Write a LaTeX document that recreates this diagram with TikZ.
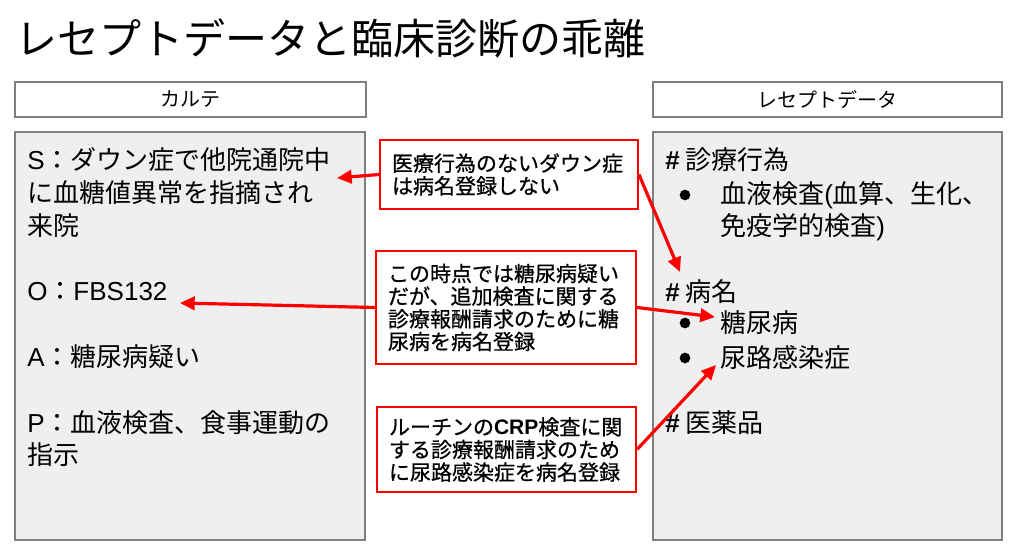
\documentclass[tikz,border=0pt]{standalone}
\usepackage{fontspec}
\setmainfont{Noto Sans CJK JP}
\newfontfamily\latinface{Liberation Sans}
\newfontfamily\noteface[FakeBold=0.7]{Noto Sans CJK JP}
\newcommand{\lat}[1]{{\latinface #1}}
\newcommand{\hashmark}{{\latinface\bfseries\#}}
\usetikzlibrary{arrows.meta}
\definecolor{panelgray}{HTML}{EFEFEF}
\definecolor{framegray}{HTML}{7F7F7F}
\definecolor{alertred}{HTML}{FF0000}

\tikzset{
  panel/.style={draw=framegray, line width=1.1pt, fill=panelgray},
  header/.style={draw=framegray, line width=1.1pt, fill=white, inner sep=0,
    font=\fontsize{15pt}{18pt}\selectfont},
  callout/.style={draw=alertred, line width=1.5pt, fill=white, align=left,
    inner xsep=9pt, inner ysep=0pt,
    font=\noteface\fontsize{15.75pt}{17pt}\selectfont},
  body/.style={anchor=west, inner sep=0, font=\fontsize{19.5pt}{24pt}\selectfont},
  bulletdot/.style={circle, fill=black, inner sep=0, minimum size=8pt},
  pointer/.style={draw=alertred, line width=2.4pt,
    -{Triangle[length=11pt,width=10pt]}},
}

\begin{document}
\begin{tikzpicture}[x=0.75pt,y=-0.75pt]
\useasboundingbox (0,0) rectangle (1024,559);

% title
\node[anchor=west, inner sep=0, font=\fontsize{31.5pt}{36pt}\selectfont]
  (title) at (15,38) {レセプトデータと臨床診断の乖離};

% column headers
\node[header, minimum width=263.25pt, minimum height=26.25pt] (hkarte) at (190.5,99.5) {カルテ};
\node[header, minimum width=261.75pt, minimum height=26.25pt] (hreceipt) at (827.5,99.5) {レセプトデータ};

% panels
\draw[panel] (15,132) rectangle (365,540);
\draw[panel] (653,132) rectangle (1002,540);

% chart (SOAP) text
\node[body] (s1) at (27,160) {\lat{S}：ダウン症で他院通院中};
\node[body] (s2) at (27,193) {に血糖値異常を指摘され};
\node[body] (s3) at (27,226) {来院};
\node[body] (o1) at (27,292) {\lat{O}：\lat{FBS132}};
\node[body] (a1) at (27,357) {\lat{A}：糖尿病疑い};
\node[body] (p1) at (27,423) {\lat{P}：血液検査、食事運動の};
\node[body] (p2) at (27,455) {指示};

% receipt data text
\node[body] (proc) at (665,160) {\hashmark{} 診療行為};
\node[bulletdot] (b1) at (685,195) {};
\node[body] (proc1) at (720,195) {血液検査\lat{(}血算、生化、};
\node[body] (proc2) at (720,227) {免疫学的検査\lat{)}};
\node[body] (dx) at (665,292) {\hashmark{} 病名};
\node[bulletdot] (b2) at (685,323) {};
\node[body] (dm) at (720,323) {糖尿病};
\node[bulletdot] (b3) at (685,358) {};
\node[body] (uti) at (720,358) {尿路感染症};
\node[body] (drug) at (665,423) {\hashmark{} 医薬品};

% notes
\node[callout, text width=175.5pt, minimum height=51.75pt] (note1) at (509,174.5)
  {医療行為のないダウン症\\は病名登録しない};
\node[callout, text width=177pt, minimum height=84.75pt] (note2) at (506,307.5)
  {この時点では糖尿病疑い\\だが、追加検査に関する\\診療報酬請求のために糖\\尿病を病名登録};
\node[callout, text width=176.25pt, minimum height=63.75pt] (note3) at (506.5,449.5)
  {ルーチンの{\latinface\bfseries CRP}検査に関\\する診療報酬請求のため\\に尿路感染症を病名登録};

% pointers
\coordinate (tipS) at (337,178);
\coordinate (tipDx) at (680,272);
\coordinate (tipO) at (180,303);
\coordinate (tipDM) at (715,317);
\coordinate (tipUTI) at (716,365);
\draw[pointer] (note1.west) -- (tipS);
\draw[pointer] (note1.east) -- (tipDx);
\draw[pointer] (note2.west) -- (tipO);
\draw[pointer] (note2.east) -- (tipDM);
\draw[pointer] (note3.east) -- (tipUTI);
\end{tikzpicture}
\end{document}
